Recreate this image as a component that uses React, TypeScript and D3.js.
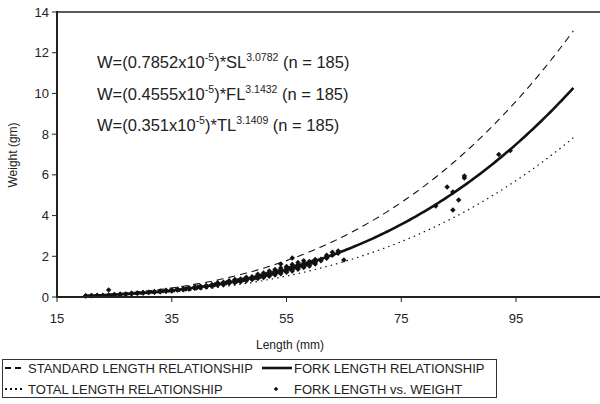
import React from "react";
import * as d3 from "d3";

const xTicks = [15, 35, 55, 75, 95];
const yTicks = [0, 2, 4, 6, 8, 10, 12, 14];

// Fitted relationships W = a * L^b
const slCoef = { a: 0.7852e-5, b: 3.0782 };
const flCoef = { a: 0.4555e-5, b: 3.1432 };
const tlCoef = { a: 0.351e-5, b: 3.1409 };
const curveStart = 20;
const curveEnd = 105;

// Observed fork length (mm) vs weight (gm), n = 185
const forkLengths = [
  20, 20, 21, 21, 22, 22, 23, 24, 24, 24, 25, 25, 26, 26, 26, 27, 27, 28, 28, 28, 29, 29, 30, 30, 30,
  31, 31, 32, 32, 32, 33, 33, 33, 34, 34, 34, 35, 35, 35, 36, 36, 36, 37, 37, 37, 38, 38, 38, 38,
  39, 39, 39, 40, 40, 40, 40,
  41, 41, 41, 42, 42, 42, 42, 43, 43, 43, 43, 44, 44, 44, 44, 45, 45, 45, 45, 46, 46, 46, 46, 46,
  47, 47, 47, 47, 48, 48, 48, 48, 48, 49, 49, 49, 49, 50, 50, 50, 50, 50,
  51, 51, 51, 51, 51, 52, 52, 52, 52, 52, 53, 53, 53, 53, 53, 54, 54, 54, 54, 54, 54,
  55, 55, 55, 55, 55, 56, 56, 56, 56, 56, 56, 57, 57, 57, 57, 57, 58, 58, 58, 58, 58,
  59, 59, 59, 59, 60, 60, 60, 60,
  61, 61, 62, 62, 62, 63, 63, 64, 64, 65,
  81, 83, 84, 84, 85, 86, 86, 92, 94,
  44.5, 46.5, 47.5, 49.5, 50.5, 51.5, 52.5, 53.5, 55.5, 56.5, 57.5, 58.5, 59.5, 37.5, 39.5, 42.5,
];
const weights = [
  0.05, 0.06, 0.06, 0.07, 0.08, 0.07, 0.09, 0.35, 0.1, 0.09, 0.11, 0.12, 0.13, 0.12, 0.14, 0.15, 0.13, 0.17, 0.16, 0.18, 0.18, 0.2, 0.21, 0.19, 0.22,
  0.22, 0.24, 0.25, 0.23, 0.27, 0.27, 0.29, 0.26, 0.3, 0.28, 0.33, 0.32, 0.35, 0.3, 0.36, 0.34, 0.39, 0.38, 0.41, 0.36, 0.42, 0.4, 0.45, 0.39,
  0.46, 0.43, 0.49, 0.5, 0.47, 0.53, 0.45,
  0.52, 0.56, 0.49, 0.58, 0.55, 0.62, 0.53, 0.61, 0.66, 0.58, 0.7, 0.67, 0.63, 0.72, 0.6, 0.71, 0.76, 0.68, 0.8, 0.77, 0.73, 0.82, 0.7, 0.86,
  0.82, 0.78, 0.88, 0.75, 0.88, 0.84, 0.93, 0.8, 0.97, 0.93, 0.89, 1.0, 0.86, 1.0, 0.95, 1.06, 0.91, 1.12,
  1.06, 1.01, 1.12, 0.96, 1.18, 1.13, 1.07, 1.2, 1.02, 1.28, 1.19, 1.14, 1.26, 1.08, 1.35, 1.27, 1.2, 1.33, 1.14, 1.42, 1.62,
  1.35, 1.28, 1.42, 1.22, 1.5, 1.42, 1.35, 1.5, 1.28, 1.6, 1.92, 1.5, 1.43, 1.58, 1.36, 1.7, 1.59, 1.5, 1.66, 1.45, 1.78,
  1.67, 1.58, 1.75, 1.52, 1.76, 1.68, 1.84, 1.62,
  1.86, 1.78, 1.96, 2.05, 1.9, 2.2, 2.05, 2.26, 2.15, 1.82,
  4.47, 5.4, 5.16, 4.27, 4.76, 5.94, 5.85, 7.0, 7.2,
  0.7, 0.8, 0.85, 0.95, 1.02, 1.1, 1.17, 1.24, 1.4, 1.47, 1.55, 1.62, 1.72, 0.4, 0.48, 0.6,
];

const legendRow1 = ["STANDARD LENGTH RELATIONSHIP", "FORK LENGTH RELATIONSHIP"];
const legendRow2 = ["TOTAL LENGTH RELATIONSHIP", "FORK LENGTH vs. WEIGHT"];

const FONT = "'Liberation Sans', Arial, sans-serif";

export default function App() {
  const left = 57;
  const top = 12;
  const bottom = 297;
  const x = d3.scaleLinear().domain([15, 110]).range([left, left + 95 * 5.7375]);
  const y = d3.scaleLinear().domain([0, 14]).range([bottom, top]);

  const curveXs = d3.range(curveStart, curveEnd + 0.001, 0.5);
  const makePath = (c: { a: number; b: number }) =>
    d3
      .line<number>()
      .x((l) => x(l))
      .y((l) => y(c.a * Math.pow(l, c.b)))(curveXs) || "";

  const marker = d3.symbol().type(d3.symbolSquare).size(15)() || "";
  const legendMarker = d3.symbol().type(d3.symbolSquare).size(10)() || "";

  const eqs = [
    { coef: "0.7852", v: "SL", exp: "3.0782" },
    { coef: "0.4555", v: "FL", exp: "3.1432" },
    { coef: "0.351", v: "TL", exp: "3.1409" },
  ];

  return (
    <svg width={600} height={404} style={{ position: "absolute", left: 0, top: 0, background: "#fff" }} fontFamily={FONT}>
      {/* frame */}
      <line x1={left} x2={602} y1={top} y2={top} stroke="#222" strokeWidth={1.5} />
      {/* curves */}
      <path d={makePath(slCoef)} fill="none" stroke="#111" strokeWidth={1.1} strokeDasharray="7,5" />
      <path d={makePath(tlCoef)} fill="none" stroke="#111" strokeWidth={1.2} strokeDasharray="1.5,4" />
      {/* points */}
      {forkLengths.map((l, i) => (
        <path key={i} d={marker} transform={`translate(${x(l)},${y(weights[i])}) rotate(45)`} fill="#111" />
      ))}
      <path d={makePath(flCoef)} fill="none" stroke="#111" strokeWidth={2.6} />
      {/* axes */}
      <line x1={left} x2={left} y1={top - 1} y2={bottom + 1} stroke="#222" strokeWidth={2} />
      <line x1={left - 1} x2={602} y1={bottom} y2={bottom} stroke="#222" strokeWidth={2} />
      {yTicks.map((t) => (
        <g key={t}>
          <line x1={left - 5} x2={left} y1={y(t)} y2={y(t)} stroke="#222" strokeWidth={1} />
          <text x={left - 8} y={y(t)} dy="0.35em" textAnchor="end" fontSize={13} fill="#222">
            {t}
          </text>
        </g>
      ))}
      {xTicks.map((t) => (
        <g key={t}>
          <line x1={x(t)} x2={x(t)} y1={bottom} y2={bottom + 5} stroke="#222" strokeWidth={1} />
          <text x={x(t)} y={323} textAnchor="middle" fontSize={13} fill="#222">
            {t}
          </text>
        </g>
      ))}
      <text x={290} y={349} textAnchor="middle" fontSize={12} fill="#222">
        Length (mm)
      </text>
      <text transform={`translate(17,155) rotate(-90)`} textAnchor="middle" fontSize={12} fill="#222">
        Weight (gm)
      </text>
      {/* equations */}
      {eqs.map((e, i) => (
        <text key={i} x={97} y={68 + i * 31.5} fontSize={16.5} fill="#222">
          W=({e.coef}x10
          <tspan fontSize={10.5} dy={-7}>-5</tspan>
          <tspan dy={7}>)*{e.v}</tspan>
          <tspan fontSize={10.5} dy={-7}>{e.exp}</tspan>
          <tspan dy={7}> (n = 185)</tspan>
        </text>
      ))}
      {/* legend */}
      <rect x={2.5} y={359.5} width={494} height={38} fill="#fff" stroke="#333" strokeWidth={1} />
      <line x1={5} x2={22} y1={368} y2={368} stroke="#111" strokeWidth={2} strokeDasharray="6,4" />
      <text x={28} y={372.5} fontSize={13} fill="#222">{legendRow1[0]}</text>
      <line x1={262} x2={292} y1={368} y2={368} stroke="#111" strokeWidth={2.6} />
      <text x={294} y={372.5} fontSize={13} fill="#222">{legendRow1[1]}</text>
      <line x1={5} x2={23} y1={389} y2={389} stroke="#111" strokeWidth={2} strokeDasharray="2,3" />
      <text x={28} y={393.5} fontSize={13} fill="#222">{legendRow2[0]}</text>
      <path d={legendMarker} transform={`translate(276,389) rotate(45)`} fill="#111" />
      <text x={294} y={393.5} fontSize={13} fill="#222">{legendRow2[1]}</text>
    </svg>
  );
}
